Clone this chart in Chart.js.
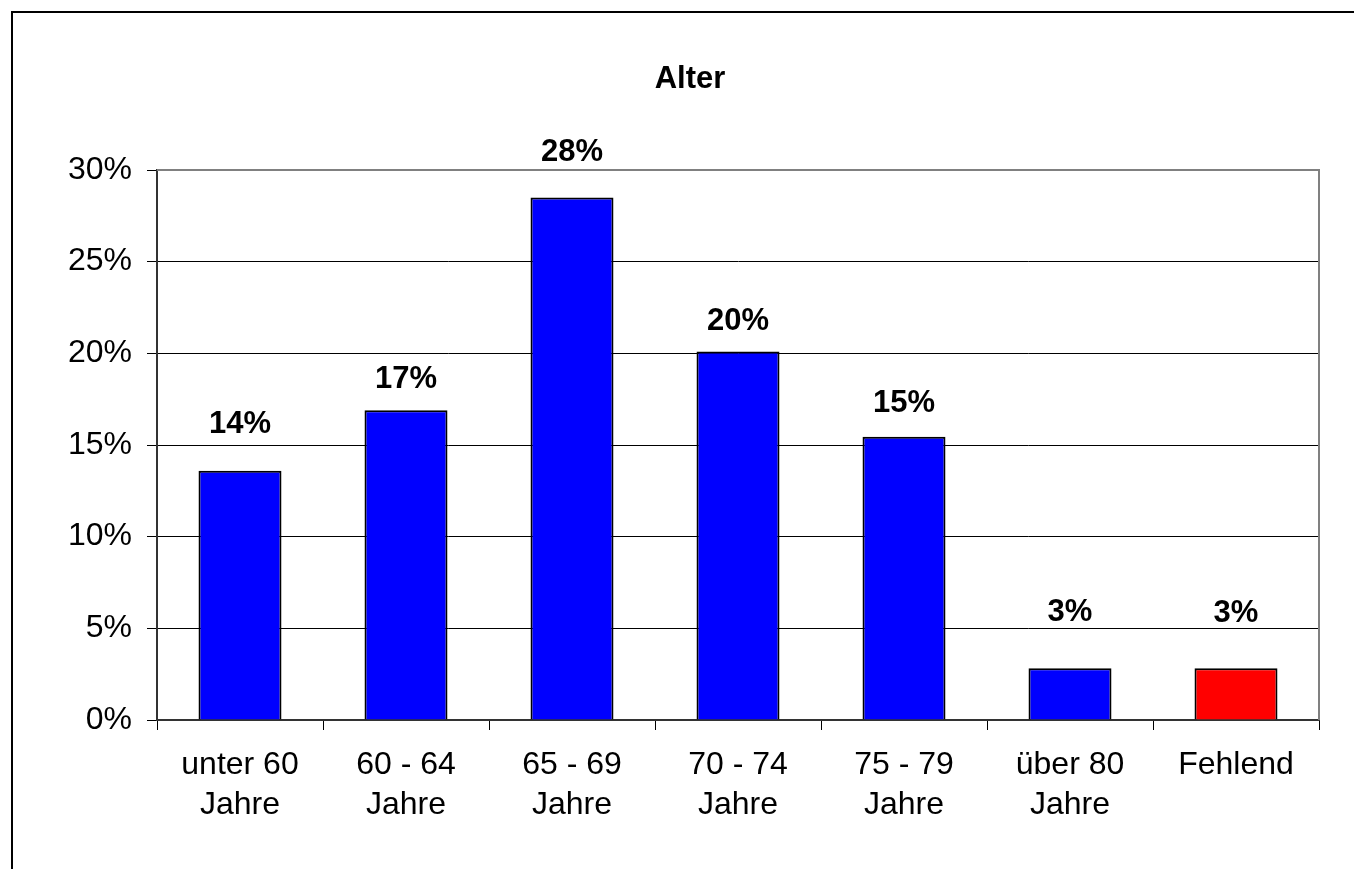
<!DOCTYPE html>
<html lang="de">
<head>
<meta charset="utf-8">
<title>Alter</title>
<script src="https://cdn.jsdelivr.net/npm/chart.js@4/dist/chart.umd.min.js"></script>
<style>
  html, body { margin: 0; padding: 0; background: #ffffff; }
  #wrap { position: relative; width: 1354px; height: 869px; overflow: hidden; }
  canvas { display: block; }
</style>
</head>
<body>
<div id="wrap"><canvas id="chart" width="1354" height="869"></canvas></div>
<script>
// Altersverteilung (Anteile in Prozent)
const chartTitle = 'Alter';
const categories = [
  ['unter 60', 'Jahre'],
  ['60 - 64', 'Jahre'],
  ['65 - 69', 'Jahre'],
  ['70 - 74', 'Jahre'],
  ['75 - 79', 'Jahre'],
  ['über 80', 'Jahre'],
  'Fehlend'
];
const shares = [13.6, 16.9, 28.5, 20.1, 15.45, 2.82, 2.82];
const valueLabels = ['14%', '17%', '28%', '20%', '15%', '3%', '3%'];
const barColors = ['#0000ff', '#0000ff', '#0000ff', '#0000ff', '#0000ff', '#0000ff', '#ff0000'];
const yTicks = [0, 5, 10, 15, 20, 25, 30];

// Abstand der Wertbeschriftung über dem Balken (px)
const labelLift = [46, 31, 45, 30, 33, 56, 55];

const FONT = '"Liberation Sans", Arial, Helvetica, sans-serif';

const decorations = {
  id: 'decorations',
  beforeDraw(chart) {
    const { ctx } = chart;
    ctx.save();
    ctx.fillStyle = '#ffffff';
    ctx.fillRect(0, 0, chart.width, chart.height);
    // äußerer Rahmen (oben und links)
    ctx.strokeStyle = '#000000';
    ctx.lineWidth = 2;
    ctx.beginPath();
    ctx.moveTo(12, chart.height + 5);
    ctx.lineTo(12, 12);
    ctx.lineTo(chart.width + 5, 12);
    ctx.stroke();
    // Titel
    ctx.fillStyle = '#000000';
    ctx.font = 'bold 31px ' + FONT;
    ctx.textAlign = 'center';
    ctx.textBaseline = 'middle';
    ctx.fillText(chartTitle, 690, 79);
    ctx.restore();
  },
  afterDatasetsDraw(chart) {
    const { ctx, chartArea } = chart;
    ctx.save();
    // Rahmen der Zeichenfläche (oben und rechts, grau)
    ctx.strokeStyle = '#808080';
    ctx.lineWidth = 2;
    ctx.beginPath();
    ctx.moveTo(chartArea.left, chartArea.top);
    ctx.lineTo(chartArea.right, chartArea.top);
    ctx.lineTo(chartArea.right, chartArea.bottom);
    ctx.stroke();
    // Wertbeschriftungen
    const meta = chart.getDatasetMeta(0);
    ctx.fillStyle = '#000000';
    ctx.font = 'bold 31px ' + FONT;
    ctx.textAlign = 'center';
    ctx.textBaseline = 'middle';
    meta.data.forEach((bar, i) => {
      ctx.fillText(valueLabels[i], bar.x, bar.y - labelLift[i]);
    });
    ctx.restore();
  }
};

new Chart(document.getElementById('chart'), {
  type: 'bar',
  data: {
    labels: categories,
    datasets: [{
      data: shares,
      backgroundColor: barColors,
      borderColor: '#000000',
      borderWidth: 2,
      borderSkipped: 'start',
      categoryPercentage: 1.0,
      barPercentage: 0.5
    }]
  },
  options: {
    responsive: false,
    animation: false,
    devicePixelRatio: 1,
    layout: { padding: { left: 20, top: 170, right: 35, bottom: 29 } },
    plugins: {
      legend: { display: false },
      title: { display: false },
      tooltip: { enabled: false }
    },
    scales: {
      x: {
        offset: true,
        grid: {
          display: true,
          drawOnChartArea: false,
          drawTicks: true,
          tickLength: 10,
          tickColor: '#000000',
          tickWidth: 1,
          offset: true
        },
        border: { display: true, color: '#333333', width: 2 },
        ticks: {
          color: '#000000',
          font: { family: FONT, size: 32, lineHeight: 1.25 },
          padding: 15,
          maxRotation: 0,
          autoSkip: false
        },
        afterFit(scale) { scale.height = 120; }
      },
      y: {
        min: 0,
        max: 30,
        afterBuildTicks(scale) { scale.ticks = yTicks.map(v => ({ value: v })); },
        grid: {
          color: ctx => (ctx.tick && ctx.tick.value === 30) ? 'rgba(0,0,0,0)' : '#000000',
          lineWidth: 1,
          drawTicks: true,
          tickLength: 10,
          tickColor: '#000000',
          tickWidth: 1
        },
        border: { display: true, color: '#333333', width: 2 },
        ticks: {
          color: '#000000',
          font: { family: FONT, size: 32 },
          padding: 15,
          callback: v => v + '%'
        },
        afterFit(scale) { scale.width = 137; }
      }
    }
  },
  plugins: [decorations]
});
</script>
</body>
</html>
